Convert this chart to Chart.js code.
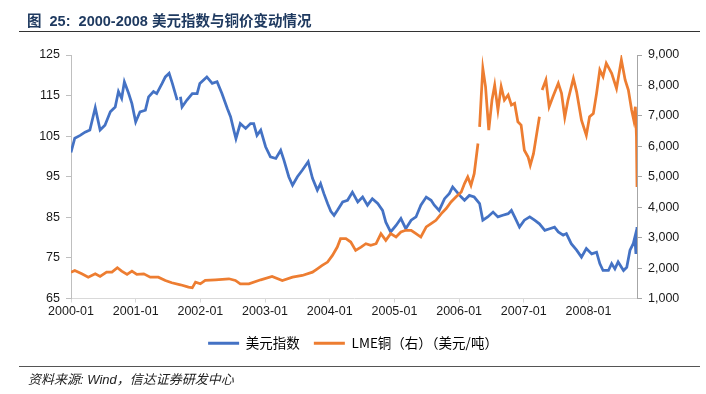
<!DOCTYPE html>
<html>
<head>
<meta charset="utf-8">
<script src="https://cdn.jsdelivr.net/npm/chart.js@4.4.1/dist/chart.umd.min.js"></script>
<style>
  body { margin: 0; background: #fff; }
  #wrap { position: relative; width: 706px; height: 394px; }
  #chartBox { position: absolute; left: 0; top: 0; width: 706px; height: 394px; }
  .title { position: absolute; left: 27px; top: 9px; font: bold 14.5px "Liberation Sans", Arial, "Noto Sans CJK SC", sans-serif; color: #1f3a60; white-space: nowrap; }
  .rule { position: absolute; left: 19px; width: 681px; height: 1px; }
  .source { position: absolute; left: 28px; top: 369px; font: italic 13px "Liberation Sans", Arial, "Noto Sans CJK SC", sans-serif; color: #222; white-space: nowrap; }
</style>
</head>
<body>
<div id="wrap">
  <div id="chartBox"><canvas id="dxyCopperChart"></canvas></div>
  <div class="title">图&nbsp; 25:&nbsp; 2000-2008 美元指数与铜价变动情况</div>
  <div class="rule" style="top:31px;background:#333;"></div>
  <div class="rule" style="top:366px;background:#555;"></div>
  <div class="source">资料来源: Wind，信达证券研发中心</div>
</div>
<script>
// months counted from 2000-01
const xTickLabels = ['2000-01', '2001-01', '2002-01', '2003-01', '2004-01', '2005-01', '2006-01', '2007-01', '2008-01'];

const dxyMonth = [0, 0.7, 1.7, 2.6, 3.5, 4.5, 5.4, 6.3, 7.3, 8.2,
    8.8, 9.4, 9.9, 10.7, 11.3, 12.0, 12.8, 13.8, 14.4, 15.3,
    15.9, 16.9, 17.5, 18.2, 18.8, 19.7, 20.0, 20.3, 20.6, 21.5,
    22.5, 23.4, 23.9, 25.2, 26.2, 27.1, 28.0, 29.0, 29.6, 30.2,
    30.6, 31.4, 32.4, 33.3, 33.9, 34.5, 35.2, 36.1, 37.0, 38.0,
    38.9, 39.5, 40.4, 41.1, 42.0, 42.9, 44.0, 44.8, 45.7, 46.3,
    46.9, 47.6, 48.2, 48.8, 49.4, 50.4, 51.3, 52.2, 53.2, 54.1,
    55.0, 55.9, 56.9, 57.8, 58.4, 59.3, 60.3, 61.2, 62.1, 63.1,
    64.0, 64.9, 65.9, 66.8, 67.4, 68.3, 69.3, 70.2, 70.8, 71.8,
    72.4, 73.0, 73.9, 74.8, 75.8, 76.4, 77.3, 78.3, 79.2, 80.1,
    81.1, 81.7, 82.3, 83.2, 84.1, 85.1, 86.0, 86.9, 87.9, 88.8,
    89.7, 90.4, 91.3, 91.9, 92.8, 93.8, 94.7, 95.6, 96.6, 97.5,
    98.1, 98.7, 99.7, 100.3, 100.9, 101.5, 102.5, 103.1, 103.7, 104.3,
    104.6, 104.8, 105];
const dxyIndex = [101, 104.5, 105.2, 106, 106.5, 112, 106.5, 107.7, 111, 112.2,
    116, 114.3, 118.4, 115.5, 113, 108.5, 111, 111.4, 114.7, 116,
    115.5, 118, 119.6, 120.5, 118, 113.9, null, 114.7, 112.2, 113.9,
    115.5, 115.5, 118, 119.6, 118, 118.4, 115.5, 111.8, 109.8, 106.5,
    104.4, 108.1, 106.9, 108.1, 108.1, 105.2, 106.5, 102.4, 99.9, 99.5,
    101.5, 99.1, 95, 92.9, 95, 96.6, 98.7, 94.6, 91.7, 93.3,
    90.9, 88.4, 86.5, 85.5, 86.7, 88.8, 89.2, 91.2, 88.8, 90,
    88, 89.6, 88.4, 86.7, 83.8, 81.4, 83, 84.7, 82.2, 84.3,
    85.1, 88, 90, 89.2, 88, 86.7, 89.6, 90.9, 92.5, 90.9,
    90, 89.2, 90.4, 90, 88.4, 84.3, 85.1, 86.3, 85.1, 85.5,
    85.9, 86.7, 85.1, 82.6, 84.3, 85.1, 84.3, 83.4, 81.8, 82.2,
    82.6, 81.4, 80.6, 81, 78.5, 76.9, 75.2, 77.3, 76, 76.4,
    73.6, 71.9, 71.9, 73.6, 72.3, 74, 71.9, 72.7, 76.9, 78.5,
    80.1, 76, 82.6];

const cuMonth = [0, 0.7, 2.0, 3.2, 4.5, 5.4, 6.6, 7.6, 8.6, 9.4,
    10.4, 11.3, 12.2, 13.5, 14.7, 16.2, 17.5, 18.7, 20.3, 21.8,
    22.5, 23.1, 24.0, 24.9, 26.8, 29.3, 30.5, 31.4, 33.0, 35.2,
    37.3, 39.2, 41.1, 42.9, 44.8, 45.7, 46.6, 47.6, 48.5, 49.4,
    50.0, 51.0, 51.9, 52.8, 53.8, 54.7, 55.6, 56.6, 57.5, 58.4,
    59.3, 60.3, 61.2, 62.1, 63.1, 64.0, 64.9, 65.9, 66.8, 67.7,
    68.7, 69.6, 70.5, 71.4, 72.4, 73.0, 73.6, 74.2, 74.8, 75.5,
    75.65, 75.8, 76.1, 76.4, 76.9, 77.5, 78.1, 78.6, 79.2, 79.8,
    80.4, 81.1, 81.7, 82.3, 82.9, 83.5, 84.1, 84.8, 85.2, 85.8,
    86.3, 86.9, 87.1, 87.4, 88.1, 88.7, 89.4, 90.4, 91.0, 91.6,
    92.2, 93.2, 93.8, 94.7, 95.6, 96.2, 96.9, 97.5, 98.1, 98.7,
    99.3, 100.3, 101.2, 102.1, 102.8, 103.4, 104.0, 104.4, 104.7, 104.9,
    105];
const cuPrice = [1866, 1922, 1812, 1701, 1812, 1724, 1866, 1866, 2010, 1900,
    1790, 1900, 1790, 1812, 1701, 1701, 1593, 1517, 1450, 1372,
    1350, 1537, 1483, 1593, 1614, 1648, 1593, 1483, 1483, 1614,
    1724, 1593, 1701, 1757, 1866, 1976, 2086, 2196, 2416, 2690,
    2965, 2965, 2855, 2580, 2690, 2800, 2745, 2800, 3130, 2910,
    3130, 3020, 3185, 3240, 3240, 3130, 3020, 3350, 3460, 3570,
    3790, 3955, 4170, 4335, 4500, 4775, 4995, 4720, 5100, 6093,
    null, 6640, 7630, 8560, 7960, 6530, 7520, 8010, 7190, 7960,
    7520, 7685, 7355, 7410, 6805, 6695, 5870, 5650, 5380, 5760,
    6310, 6970, null, 7850, 8180, 7300, 7630, 8070, 7740, 6950,
    7520, 8230, 7790, 6860, 6365, 6970, 7080, 7740, 8510, 8290,
    8730, 8400, 7900, 8840, 8180, 7850, 7190, 6860, 7300, 6310,
    4665];

const toPoints = (xs, ys) => xs.map((x, i) => ({ x: x, y: ys[i] }));

const FONT = '"Liberation Sans", Arial, "Noto Sans CJK SC", sans-serif';
Chart.defaults.font.family = FONT;
Chart.defaults.color = '#1a1a1a';

const ctx = document.getElementById('dxyCopperChart').getContext('2d');
new Chart(ctx, {
    type: 'line',
    data: {
        datasets: [{
            label: '美元指数',
            data: toPoints(dxyMonth, dxyIndex),
            borderColor: '#4472C4',
            backgroundColor: '#4472C4',
            borderWidth: 2.75,
            pointRadius: 0,
            yAxisID: 'y',
            order: 1
        }, {
            label: 'LME铜（右）（美元/吨）',
            data: toPoints(cuMonth, cuPrice),
            borderColor: '#ED7D31',
            backgroundColor: '#ED7D31',
            borderWidth: 2.75,
            pointRadius: 0,
            yAxisID: 'y1',
            order: 0
        }]
    },
    options: {
        responsive: true,
        maintainAspectRatio: false,
        animation: false,
        spanGaps: false,
        layout: { padding: { left: 0, right: 0, top: 55, bottom: 34 } },
        plugins: {
            tooltip: { enabled: false },
            legend: {
                position: 'bottom',
                labels: {
                    boxWidth: 31,
                    boxHeight: 3,
                    padding: 14,
                    color: '#1a1a1a',
                    font: { size: 13.5, family: '"Noto Sans CJK SC", "Liberation Sans", sans-serif' },
                    generateLabels: (chart) => chart.data.datasets.map((ds, i) => ({
                        text: ds.label,
                        fillStyle: ds.borderColor,
                        strokeStyle: ds.borderColor,
                        lineWidth: 0,
                        hidden: false,
                        datasetIndex: i
                    }))
                }
            }
        },
        scales: {
            x: {
                type: 'linear',
                min: 0,
                max: 105,
                afterBuildTicks: (scale) => {
                    scale.ticks = xTickLabels.map((t, i) => ({ value: i * 12 }));
                },
                afterFit: (scale) => { scale.height = 24; },
                ticks: {
                    autoSkip: false,
                    maxRotation: 0,
                    padding: 2,
                    font: { size: 12.5 },
                    callback: (v) => xTickLabels[Math.round(v / 12)]
                },
                grid: { drawOnChartArea: false, tickLength: 4, color: '#d9d9d9' },
                border: { color: '#d9d9d9' }
            },
            y: {
                position: 'left',
                min: 65,
                max: 125,
                afterFit: (scale) => { scale.width = 71; },
                ticks: { stepSize: 10, padding: 6, font: { size: 12.5 } },
                grid: { drawOnChartArea: false, tickLength: 5, color: '#bfbfbf' },
                border: { color: '#bfbfbf' }
            },
            y1: {
                position: 'right',
                min: 1000,
                max: 9000,
                afterFit: (scale) => { scale.width = 69; },
                ticks: {
                    stepSize: 1000,
                    padding: 6,
                    font: { size: 12.5 },
                    callback: (v) => v.toLocaleString('en-US')
                },
                grid: { drawOnChartArea: false, tickLength: 5, color: '#a6a6a6' },
                border: { color: '#a6a6a6' }
            }
        }
    }
});
</script>
</body>
</html>
